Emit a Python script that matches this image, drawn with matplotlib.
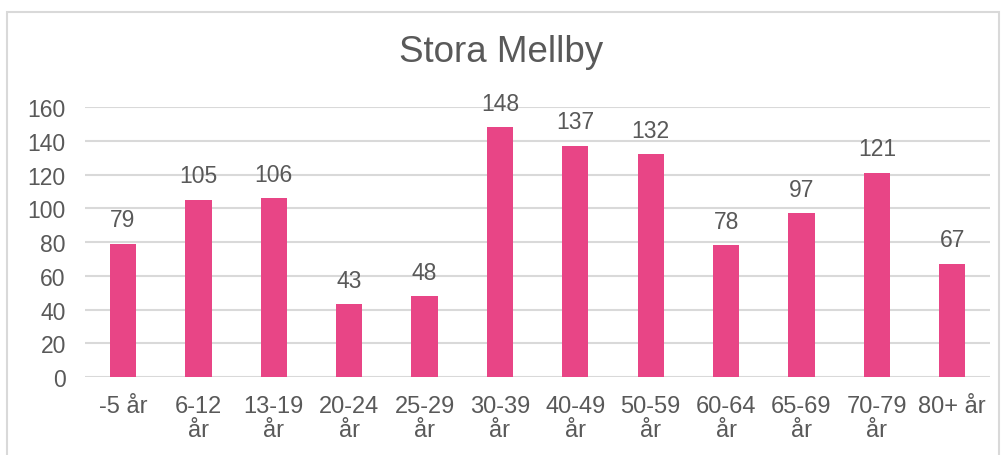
import matplotlib.pyplot as plt
from matplotlib.patches import Rectangle

categories = ["-5 år", "6-12\når", "13-19\når", "20-24\når", "25-29\når", "30-39\når",
              "40-49\når", "50-59\når", "60-64\når", "65-69\når", "70-79\når", "80+ år"]
values = [79, 105, 106, 43, 48, 148, 137, 132, 78, 97, 121, 67]

plt.rcParams['font.family'] = ['Liberation Sans', 'DejaVu Sans']
grey = "#595959"
pink = "#E84586"

fig = plt.figure(figsize=(10.03, 4.56), dpi=100)
ax = fig.add_axes([0.085, 0.171, 0.902, 0.592])

x = range(len(categories))
bars = ax.bar(x, values, 0.35, color=pink, zorder=3)
for b, v in zip(bars, values):
    ax.annotate(str(v), (b.get_x() + b.get_width() / 2, v), xytext=(0, 9),
                textcoords="offset points", ha="center", va="bottom",
                fontsize=16.5, color=grey)

ax.set_xlim(-0.5, len(categories) - 0.5)
ax.set_ylim(0, 160)
ax.set_yticks(range(0, 161, 20))
ax.set_xticks(list(x))
ax.set_xticklabels(categories, linespacing=1.1)
ax.tick_params(axis="both", length=0, labelsize=16.5, labelcolor=grey)
ax.tick_params(axis="x", labelsize=17, pad=13)
ax.tick_params(axis="y", pad=14)
ax.grid(axis="y", color="#D9D9D9", linewidth=1.5, zorder=0)
for s in ax.spines.values():
    s.set_visible(False)

fig.text(0.5, 0.884, "Stora Mellby", ha="center", va="center", fontsize=26.5, color=grey)
fig.patches.append(Rectangle((7 / 1003, -0.1), 992 / 1003, 1.1 - 13 / 456,
                             transform=fig.transFigure, fill=False,
                             edgecolor="#D9D9D9", linewidth=1.5))

fig.savefig("out.png", dpi=100)
